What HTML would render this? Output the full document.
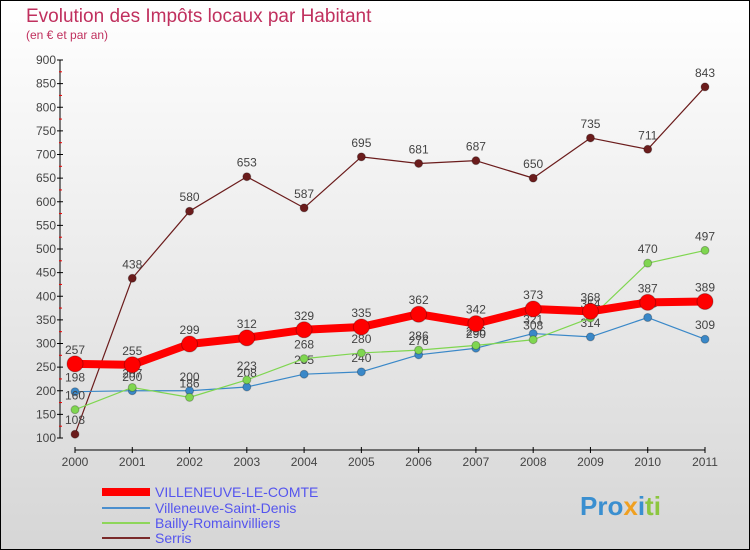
<!DOCTYPE html>
<html><head><meta charset="utf-8"><style>
body{margin:0}
#c{width:750px;height:550px;position:relative;overflow:hidden}
text{font-family:"Liberation Sans",sans-serif}
</style></head><body>
<div id="c">
<svg id="s" width="750" height="550" xmlns="http://www.w3.org/2000/svg">
<defs><linearGradient id="bg" x1="0" y1="0" x2="0" y2="1"><stop offset="0" stop-color="#ffffff"/><stop offset="1" stop-color="#d6d6d6"/></linearGradient></defs>
<rect x="0.5" y="0.5" width="749" height="549" fill="url(#bg)" stroke="#000"/>
<text x="26" y="22" font-size="19" fill="#c0305e">Evolution des Impôts locaux par Habitant</text>
<text x="26" y="39" font-size="12" fill="#c0305e">(en € et par an)</text>
<g id="axes"></g><g id="series"></g>
<g>
<line x1="102" y1="492" x2="150" y2="492" stroke="#ff0000" stroke-width="8"/>
<text x="155" y="497" font-size="14" fill="#5555ee">VILLENEUVE-LE-COMTE</text>
<line x1="102" y1="508" x2="150" y2="508" stroke="#4b8fce" stroke-width="2"/>
<text x="155" y="513" font-size="14" fill="#5555ee">Villeneuve-Saint-Denis</text>
<line x1="102" y1="523" x2="150" y2="523" stroke="#8ed65a" stroke-width="2"/>
<text x="155" y="528" font-size="14" fill="#5555ee">Bailly-Romainvilliers</text>
<line x1="102" y1="538" x2="150" y2="538" stroke="#7a2a2a" stroke-width="2"/>
<text x="155" y="543" font-size="14" fill="#5555ee">Serris</text>
</g>
<text x="580" y="515" font-size="26" font-weight="bold"><tspan fill="#3a8fd0">Pro</tspan><tspan fill="#f0a020">x</tspan><tspan fill="#3a8fd0">i</tspan><tspan fill="#8cc63f">ti</tspan></text>
</svg></div>
<script>
const years=["2000","2001","2002","2003","2004","2005","2006","2007","2008","2009","2010","2011"];
const yTicks=[100,150,200,250,300,350,400,450,500,550,600,650,700,750,800,850,900];
const vlc=[257,255,299,312,329,335,362,342,373,368,387,389];
const vsd=[198,200,200,208,235,240,276,290,321,314,355,309];
const bailly=[160,207,186,223,268,280,286,296,308,354,470,497];
const serris=[108,438,580,653,587,695,681,687,650,735,711,843];
const NS="http://www.w3.org/2000/svg";
function X(i){return 75+i*(630/11);}
function Y(v){return 438-(v-100)*(378/800);}
function mk(tag,attrs,parent){const e=document.createElementNS(NS,tag);for(const k in attrs)e.setAttribute(k,attrs[k]);parent.appendChild(e);return e;}
const ax=document.getElementById('axes'),sg=document.getElementById('series');
let yl=mk('line',{x1:60,y1:Y(900),x2:60,y2:Y(100),stroke:'#000'},ax);


let xl=mk('line',{x1:75,y1:450,x2:X(11),y2:450,stroke:'#000'},ax);


yTicks.forEach((t,i)=>{
 let tk=mk('line',{x1:57,y1:Y(t),x2:63,y2:Y(t),stroke:'#000'},ax);
 
 
 if(i<yTicks.length-1){let m=mk('line',{x1:59,y1:Y(t+25),x2:62,y2:Y(t+25),stroke:'#e00'},ax);
 
 }
 let tx=mk('text',{x:56,y:Y(t)+4,'font-size':12,fill:'#444','text-anchor':'end'},ax);
 tx.textContent=t;
 
 
});
years.forEach((y,i)=>{
 let tk=mk('line',{x1:X(i),y1:447,x2:X(i),y2:453,stroke:'#000'},ax);
 
 
 let tx=mk('text',{x:X(i),y:466,'font-size':12,fill:'#444','text-anchor':'middle'},ax);
 tx.textContent=y;
 
 
});
function series(vals,color,w,r,name){
 const g=mk('g',{},sg);
 
 
 let p=mk('polyline',{points:vals.map((v,i)=>X(i)+','+Y(v)).join(' '),fill:'none',stroke:color,'stroke-width':w,'stroke-linejoin':'round'},g);
 
 
 vals.forEach((v,i)=>{
  let c=mk('circle',{cx:X(i),cy:Y(v),r:r,fill:color,stroke:'rgba(0,0,0,0.25)'},g);
  
  
  let t=mk('text',{x:X(i),y:Y(v)-10,'font-size':12,fill:'#444','text-anchor':'middle'},g);
  t.textContent=v;
  
  
 });
}
series(serris,'#6b1c1c',1.2,4,'serris');
series(vsd,'#3a88c8',1.2,4,'villeneuve-saint-denis');
series(bailly,'#7fd650',1.2,4,'bailly-romainvilliers');
series(vlc,'#ff0000',8,8,'villeneuve-le-comte');
</script>
</body></html>
